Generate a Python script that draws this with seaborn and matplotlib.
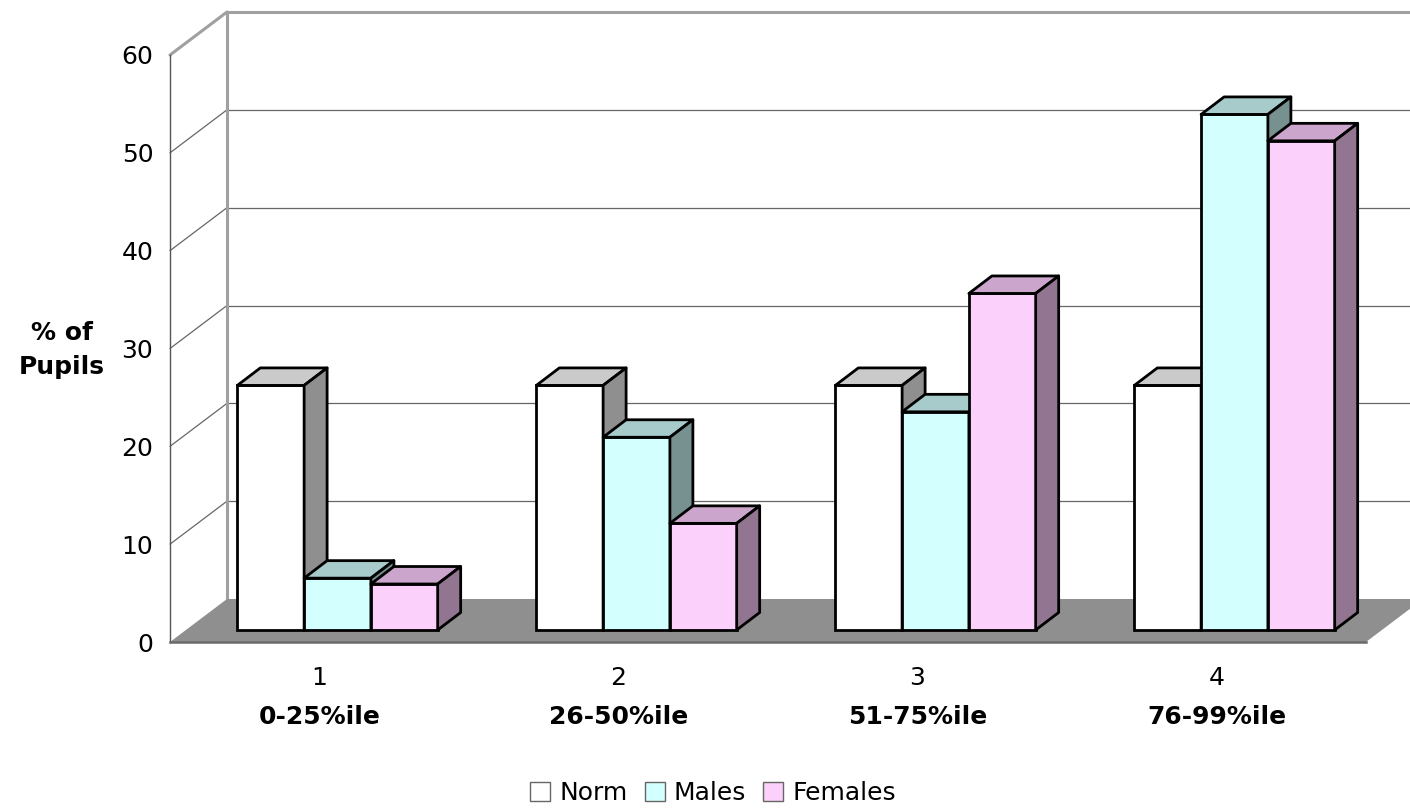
import matplotlib
matplotlib.use("Agg")
import matplotlib.pyplot as plt
import matplotlib.transforms as mtransforms
from matplotlib.patches import Polygon, Patch
from matplotlib.lines import Line2D
import seaborn as sns
import pandas as pd

# ---------------- data ----------------
categories = ["1", "2", "3", "4"]
cat_labels = ["0-25%ile", "26-50%ile", "51-75%ile", "76-99%ile"]
series = ["Norm", "Males", "Females"]
norm = [25, 25, 25, 25]
males = [5.3, 19.7, 22.3, 52.7]
females = [4.7, 10.9, 34.4, 50.0]
y_ticks = [0, 10, 20, 30, 40, 50, 60]

front_colors = {"Norm": "#ffffff", "Males": "#d4ffff", "Females": "#fbd0fb"}
top_colors = {"Norm": "#cacaca", "Males": "#a7cbcb", "Females": "#cca5cc"}
side_colors = {"Norm": "#8f8f8f", "Males": "#779191", "Females": "#927590"}

rows = []
for s, vals in zip(series, [norm, males, females]):
    for c, v in zip(categories, vals):
        rows.append({"cat": c, "val": v, "series": s})
df = pd.DataFrame(rows)

# ---------------- figure ----------------
sns.set_style("white")
plt.rcParams["font.family"] = ["DejaVu Sans"]
plt.rcParams["text.color"] = "black"
plt.rcParams["xtick.labelcolor"] = "black"
plt.rcParams["ytick.labelcolor"] = "black"

W, H, DPI = 1410, 808, 100
fig = plt.figure(figsize=(W / DPI, H / DPI), dpi=DPI)
ax_l, ax_r, ax_t, ax_b = 170, 1366, 55, 642
ax = fig.add_axes([ax_l / W, 1 - ax_b / H, (ax_r - ax_l) / W, (ax_b - ax_t) / H])

sns.barplot(data=df, x="cat", y="val", hue="series", order=categories,
            hue_order=series, palette=front_colors, width=0.67,
            saturation=1, edgecolor="black", linewidth=2.0,
            legend=False, ax=ax)

ax.set_xlim(-0.5, 3.5)
ax.set_ylim(0, 60)
ax.set_xlabel("")
ax.set_ylabel("")

# pixel -> data conversions
px_x = (ax_r - ax_l) / 4.0
px_y = (ax_b - ax_t) / 60.0

# wall / floor depth
wx, wy = 57 / px_x, 43 / px_y
# bar depth
bx, by = 23 / px_x, 17.5 / px_y

# ---------------- walls, floor, grid ----------------
x0, x1 = -0.5, 3.5
floor = Polygon([(x0, 0), (x1, 0), (x1 + wx, wy), (x0 + wx, wy)],
                closed=True, facecolor="#8f8f8f", edgecolor="none",
                zorder=0.8, clip_on=False)
ax.add_patch(floor)

for v in y_ticks[1:-1]:
    ax.add_line(Line2D([x0, x0 + wx], [v, v + wy], color="#666666", lw=0.9,
                       zorder=0.5, clip_on=False))
    ax.add_line(Line2D([x0 + wx, x1 + wx + 0.5], [v + wy, v + wy], color="#666666",
                       lw=0.9, zorder=0.5, clip_on=False))
wall_c = "#a0a0a0"
ax.add_line(Line2D([x0, x0 + wx], [60, 60 + wy], color=wall_c, lw=2.2,
                   zorder=0.6, clip_on=False))
ax.add_line(Line2D([x0 + wx, x1 + wx + 0.5], [60 + wy, 60 + wy], color=wall_c, lw=2.2,
                   zorder=0.6, clip_on=False))
ax.add_line(Line2D([x0 + wx, x0 + wx], [wy, 60 + wy], color=wall_c, lw=2.2,
                   zorder=0.6, clip_on=False))

# ---------------- 3D bars ----------------
bar_trans = ax.transData + mtransforms.ScaledTranslation(0.18, 0.12, fig.dpi_scale_trans)
n_cat = len(categories)
for i, p in enumerate(list(ax.patches)):
    if p is floor:
        continue
    s = series[i // n_cat]
    bxl = p.get_x()
    bw = p.get_width()
    h = p.get_height()
    bxr = bxl + bw
    z = 2 + bxl * 0.1
    p.set_transform(bar_trans)
    p.set_zorder(z)
    p.set_clip_on(False)
    top = Polygon([(bxl, h), (bxr, h), (bxr + bx, h + by), (bxl + bx, h + by)],
                  closed=True, facecolor=top_colors[s], edgecolor="black",
                  lw=2.0, joinstyle="round", transform=bar_trans, zorder=z, clip_on=False)
    side = Polygon([(bxr, 0), (bxr, h), (bxr + bx, h + by), (bxr + bx, by)],
                   closed=True, facecolor=side_colors[s], edgecolor="black",
                   lw=2.0, joinstyle="round", transform=bar_trans, zorder=z, clip_on=False)
    ax.add_patch(top)
    ax.add_patch(side)

# ---------------- axes styling ----------------
for sp in ["top", "right"]:
    ax.spines[sp].set_visible(False)
ax.spines["left"].set_color("#555555")
ax.spines["left"].set_linewidth(1.0)
ax.spines["bottom"].set_color("#6a6a6a")
ax.spines["bottom"].set_linewidth(1.8)
ax.spines["left"].set_zorder(1)
ax.spines["bottom"].set_zorder(1)

ax.set_yticks(y_ticks)
ax.set_yticklabels([str(t) for t in y_ticks])
ax.tick_params(axis="y", length=7, width=1, color="#777777", labelsize=18, pad=5,
               labelcolor="black")

ax.set_xticks(range(n_cat))
ax.set_xticklabels(categories)
ax.tick_params(axis="x", which="major", length=0, labelsize=18, pad=17,
               labelcolor="black")
ax.set_xticks([-0.5, 0.5, 1.5, 2.5, 3.5], minor=True)
ax.tick_params(axis="x", which="minor", length=7.5, width=1, color="#999999")

blend = mtransforms.blended_transform_factory(ax.transData, ax.transAxes)
for i, lab in enumerate(cat_labels):
    ax.text(i, -75 / (ax_b - ax_t), lab, transform=blend, ha="center", va="center",
            fontsize=18, fontweight="bold", color="black")

fig.text(62 / W, 1 - 350 / H, "% of\nPupils", ha="center", va="center",
         fontsize=18, fontweight="bold", linespacing=1.5, color="black")

handles = [Patch(facecolor=front_colors[s], edgecolor="#666666", lw=1.0) for s in series]
fig.legend(handles, series, loc="center", bbox_to_anchor=(713 / W, 1 - 793 / H),
           ncol=3, frameon=False, fontsize=18, handlelength=0.8, handleheight=0.8,
           handletextpad=0.35, columnspacing=0.7, borderaxespad=0, borderpad=0,
           labelcolor="black")

fig.savefig("out.png", dpi=DPI)
